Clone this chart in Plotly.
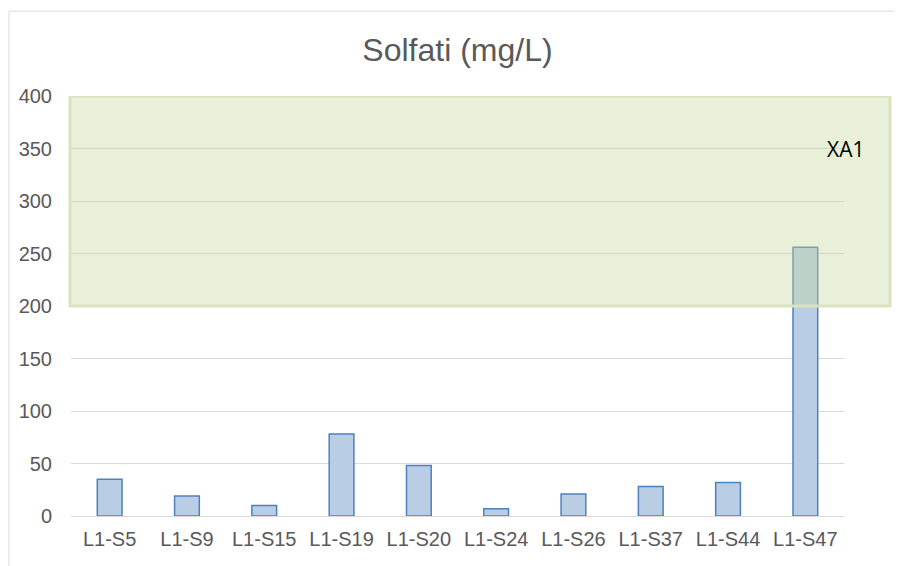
import plotly.graph_objects as go

# --- data ---
samples = ["L1-S5", "L1-S9", "L1-S15", "L1-S19", "L1-S20",
           "L1-S24", "L1-S26", "L1-S37", "L1-S44", "L1-S47"]
sulfates = [35, 19, 10, 78, 48, 7, 21, 28, 32, 256]
y_ticks = [0, 50, 100, 150, 200, 250, 300, 350, 400]
xa1_band = [200, 400]  # limit band drawn as shaded rectangle
xa1_label = "XA1"

grey_text = "#595959"
grid = "#d9d9d9"

fig = go.Figure()
fig.add_trace(
    go.Bar(
        x=samples,
        y=sulfates,
        marker=dict(color="#b9cde5", line=dict(color="#4f81bd", width=1.5)),
    )
)

# shaded XA1 band (overlays the bars, slightly wider than plot area)
fig.add_shape(
    type="rect", xref="paper", yref="y",
    x0=-0.0013, x1=1.0595, y0=xa1_band[0], y1=xa1_band[1],
    fillcolor="rgba(196,215,155,0.38)",
    line=dict(color="#d7e4bd", width=3),
    layer="above",
)
fig.add_annotation(
    xref="paper", yref="y", x=0.975, y=350, text=xa1_label,
    showarrow=False, xanchor="left", yanchor="middle",
    font=dict(family="Open Sans", size=21, color="#000000"),
)

# chart frame (left and top edges visible)
fig.add_shape(type="line", xref="paper", yref="paper",
              x0=-0.0802, x1=-0.0802, y0=-0.2, y1=1.202,
              line=dict(color=grid, width=1))
fig.add_shape(type="line", xref="paper", yref="paper",
              x0=-0.0802, x1=1.2, y0=1.202, y1=1.202,
              line=dict(color=grid, width=1))

# page body has an 8px margin, so the figure is sized/shifted to fit the window
fig.update_layout(
    width=894, height=558,
    margin=dict(l=63, r=58, t=88, b=50),
    paper_bgcolor="white", plot_bgcolor="white",
    bargap=0.68,
    showlegend=False,
    font=dict(family="Liberation Sans", color=grey_text, size=20),
    title=dict(
        text="Solfati (mg/L)", x=0.5, xref="paper", xanchor="center",
        y=0.925, yref="container", yanchor="middle",
        font=dict(family="Liberation Sans", size=32, color=grey_text),
    ),
    xaxis=dict(
        showgrid=False, showline=False, ticks="",
        tickfont=dict(size=20, color=grey_text),
        ticklabelstandoff=9,
    ),
    yaxis=dict(
        range=[0, 400], tickvals=y_ticks,
        showgrid=True, gridcolor=grid, gridwidth=1,
        zeroline=True, zerolinecolor=grid, zerolinewidth=1,
        showline=False, ticks="",
        tickfont=dict(size=20, color=grey_text),
        ticklabelstandoff=18,
    ),
)

fig.write_html("out.html")
